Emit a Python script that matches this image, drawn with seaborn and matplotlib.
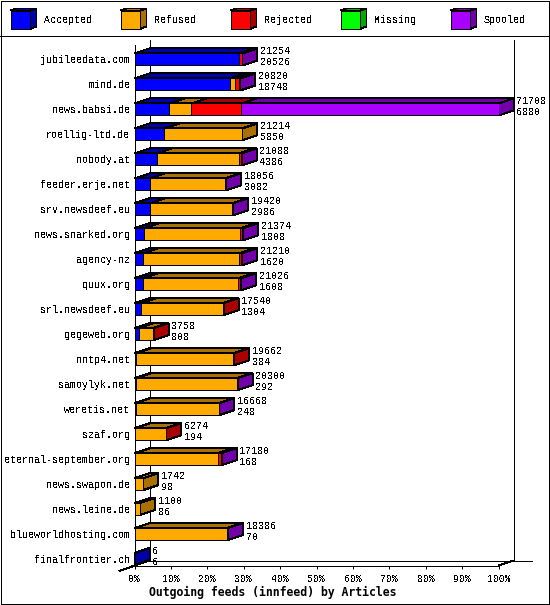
import numpy as np
import pandas as pd
import seaborn as sns
import matplotlib
matplotlib.use("Agg")
import matplotlib.pyplot as plt

hosts = ["jubileedata.com", "mind.de", "news.babsi.de", "roellig-ltd.de", "nobody.at",
         "feeder.erje.net", "srv.newsdeef.eu", "news.snarked.org", "agency-nz", "quux.org",
         "srl.newsdeef.eu", "gegeweb.org", "nntp4.net", "samoylyk.net", "weretis.net",
         "szaf.org", "eternal-september.org", "news.swapon.de", "news.leine.de",
         "blueworldhosting.com", "finalfrontier.ch"]
totals = [21254, 20820, 71708, 21214, 21088, 18056, 19420, 21374, 21210, 21026, 17540,
          3758, 19662, 20300, 16668, 6274, 17180, 1742, 1100, 18386, 6]
accepted = [20526, 18748, 6880, 5850, 4386, 3082, 2986, 1808, 1620, 1608, 1304,
            808, 384, 292, 248, 194, 168, 98, 86, 70, 6]
refused = [0, 1100, 4310, 15364, 16260, 14800, 16200, 19000, 18960, 18840, 16040,
           2770, 19066, 19900, 16320, 5980, 16330, 1644, 1014, 18090, 0]
rejected = [700, 790, 9850, 0, 350, 0, 0, 300, 450, 390, 196,
            180, 212, 0, 0, 100, 640, 0, 0, 0, 0]
missing = [0] * 21
spooled = [28, 182, 50668, 0, 92, 174, 234, 266, 180, 188, 0,
           0, 0, 108, 100, 0, 42, 0, 0, 226, 0]

series = ["Accepted", "Refused", "Rejected", "Missing", "Spooled"]
front = ["#0000FF", "#FFAA00", "#FF0000", "#00FF00", "#AA00FF"]
dark = ["#0000AA", "#AA7100", "#AA0000", "#00AA00", "#7100AA"]
pct_ticks = list(range(0, 101, 10))

sns.set_theme(style="white")
plt.rcParams["font.family"] = ["Liberation Mono"]
plt.rcParams["text.antialiased"] = False

W, H = 550, 605
fig = plt.figure(figsize=(W / 100, H / 100), dpi=100, facecolor="white")

# pixel layer for frame, walls and legend
bg = fig.add_axes([0, 0, 1, 1], zorder=0)
bg.set_xlim(0, W)
bg.set_ylim(H, 0)
bg.axis("off")
LW = 0.72
for xs, ys in [([0.5, 549, 549, 0.5, 0.5], [0.5, 0.5, 603.5, 603.5, 0.5]),
               ([0, 550], [35.5, 35.5]),
               ([149.5, 149.5], [40, 560.5]),
               ([513.5, 513.5], [40, 560.5]),
               ([149.5, 531.5], [560.5, 560.5]),
               ([119, 149.5], [571, 560.5]),
               ([498.5, 513.5], [565.5, 560.5])]:
    bg.plot(xs, ys, color="black", lw=LW, antialiased=False, solid_capstyle="butt")

for i, name in enumerate(series):
    x0 = 10.5 + 110 * i
    x1 = x0 + 20
    y0, y1 = 10.5, 28.5
    bg.fill([x0, x1, x1, x0], [y1, y1, y0, y0], fc=front[i], ec="black", lw=LW, antialiased=False)
    bg.fill([x0, x1, x1 + 6, x0 + 6], [y0, y0, y0 - 2, y0 - 2], fc=dark[i], ec="black", lw=LW, antialiased=False)
    bg.fill([x1, x1 + 6, x1 + 6, x1], [y0, y0 - 2, y1 - 2, y1], fc=dark[i], ec="black", lw=LW, antialiased=False)
    bg.text(x0 + 33.5, 20, name, fontsize=7.2, ha="left", va="center", color="black")

# chart layer
ax = fig.add_axes([134.5 / W, 1 - 565.5 / H, 364 / W, 520 / H], zorder=1)
ax.patch.set_visible(False)

df = pd.DataFrame({"host": hosts, "Accepted": accepted, "Refused": refused,
                   "Rejected": rejected, "Missing": missing, "Spooled": spooled})
scale = 100 / max(totals)
stack = df[series].cumsum(axis=1) * scale

# stacked front faces, biggest cumulative first
for k in range(len(series) - 1, -1, -1):
    sns.barplot(x=stack[series[k]].values, y=df["host"], orient="h", color=front[k], saturation=1,
                width=0.48, edgecolor="black", linewidth=LW, ax=ax, zorder=3)

ax.set_xlim(0, 100)
ax.set_ylim((565.5 - 59) / 25, (45 - 59) / 25)

dx = 15 / 3.64
dy = 5 / 25
half = 0.24
for r in range(len(hosts)):
    left = 0
    last = 0
    for k in range(len(series)):
        v = df[series[k]][r] * scale
        if v <= 0:
            continue
        right = left + v
        top = r - half
        ax.fill([left, right, right + dx, left + dx], [top, top, top - dy, top - dy],
                fc=dark[k], ec="black", lw=LW, clip_on=False, zorder=2, antialiased=False)
        left = right
        last = k
    ax.fill([left, left + dx, left + dx, left],
            [r - half, r - half - dy, r + half - dy, r + half],
            fc=dark[last], ec="black", lw=LW, clip_on=False, zorder=2, antialiased=False)
    ax.annotate(str(totals[r]), (left, r), xytext=(18, 8), textcoords="offset pixels",
                fontsize=7.2, ha="left", va="center", color="black", annotation_clip=False)
    ax.annotate(str(accepted[r]), (left, r), xytext=(18, -3), textcoords="offset pixels",
                fontsize=7.2, ha="left", va="center", color="black", annotation_clip=False)

for b in ax.patches:
    b.set_antialiased(False)

ax.set_xticks(pct_ticks)
ax.set_xticklabels([f"{p}%" for p in pct_ticks], fontsize=7, color="black")
ax.tick_params(axis="x", bottom=True, length=2.2, width=LW, pad=3.6, color="black")
ax.tick_params(axis="y", left=False, length=0, pad=3, labelsize=7.2, labelcolor="black")
# the title stays smoothed so that the bold weight shows
ax.set_xlabel("Outgoing feeds (innfeed) by Articles", fontsize=8.3, fontweight="bold",
              family="DejaVu Sans Mono", color="black", labelpad=1, antialiased=True)
ax.xaxis.set_label_coords(0.38, -0.0395)
ax.set_ylabel("")
sns.despine(ax=ax, top=True, right=True)
for s in ["left", "bottom"]:
    ax.spines[s].set_color("black")
    ax.spines[s].set_linewidth(LW)

fig.savefig("out.png", dpi=100)
